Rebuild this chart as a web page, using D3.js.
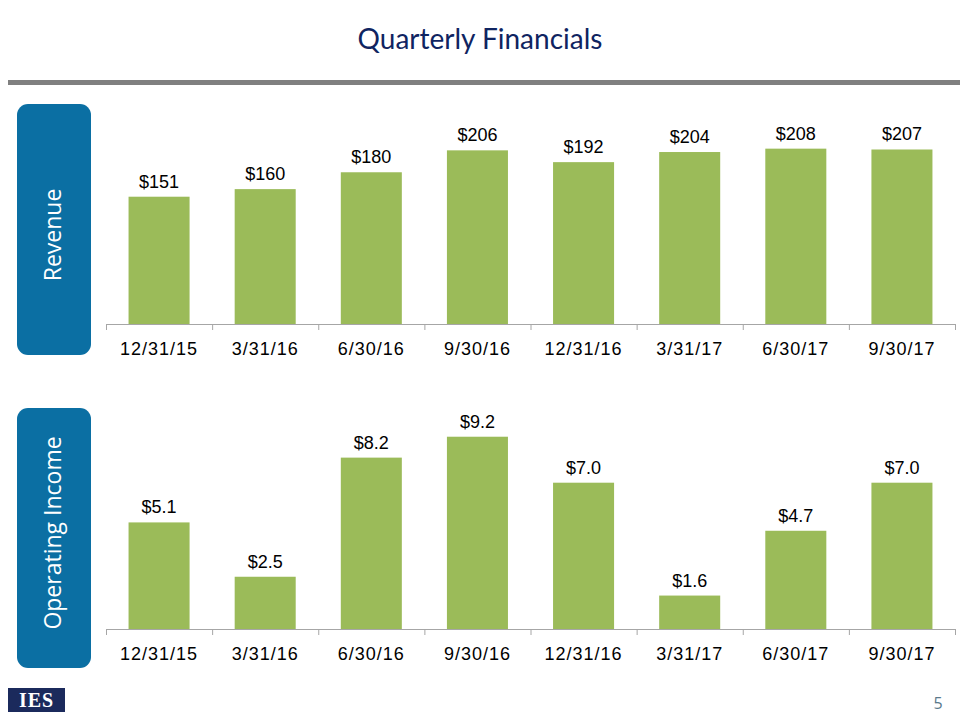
<!DOCTYPE html>
<html><head><meta charset="utf-8">
<script src="https://cdn.jsdelivr.net/npm/d3@7"></script>
<style>body{margin:0;background:#fff}svg{display:block}</style>
</head><body>
<script>
const categories = ["12/31/15","3/31/16","6/30/16","9/30/16","12/31/16","3/31/17","6/30/17","9/30/17"];
const revenue = [151,160,180,206,192,204,208,207];
const revenueLabels = ["$151","$160","$180","$206","$192","$204","$208","$207"];
const opIncome = [5.1,2.5,8.2,9.2,7.0,1.6,4.7,7.0];
const opIncomeLabels = ["$5.1","$2.5","$8.2","$9.2","$7.0","$1.6","$4.7","$7.0"];
const panelTitles = ["Revenue","Operating Income"];

const W=960,H=720;
const svg=d3.select("body").append("svg").attr("width",W).attr("height",H);

// title
svg.append("text").attr("x",480).attr("y",49).attr("text-anchor","middle")
  .attr("font-family","Lato, 'Open Sans', sans-serif").attr("font-size",28)
  .attr("fill","#0F2461").text("Quarterly Financials");
svg.append("rect").attr("x",8).attr("y",80).attr("width",952).attr("height",5).attr("fill","#808080");

const x=d3.scaleBand().domain(categories).range([106,955]).paddingInner(0.425).paddingOuter(0.2125);
const xb=d3.scaleLinear().domain([0,categories.length]).range([106,955]);

function panel(values,labels,yScale,box,title,textCenter){
  const g=svg.append("g");
  g.append("rect").attr("x",box[0]).attr("y",box[1]).attr("width",box[2]).attr("height",box[3])
    .attr("rx",11).attr("fill","#0B6FA3");
  g.append("text").attr("transform",`translate(${box[0]+box[2]/2+7},${textCenter}) rotate(-90)`)
    .attr("text-anchor","middle").attr("font-family","'Open Sans', sans-serif").attr("font-size",23)
    .attr("fill","#fff").text(title);
  const base=yScale(0);
  g.selectAll(".bar").data(values).join("rect")
    .attr("x",(d,i)=>x(categories[i])).attr("width",x.bandwidth())
    .attr("y",d=>yScale(d)).attr("height",d=>base-yScale(d)).attr("fill","#9BBB59");
  g.selectAll(".lbl").data(values).join("text")
    .attr("x",(d,i)=>x(categories[i])+x.bandwidth()/2).attr("y",d=>yScale(d)-9)
    .attr("text-anchor","middle").attr("font-family","Arial, 'Liberation Sans', sans-serif")
    .attr("font-size",18).attr("fill","#000").text((d,i)=>labels[i]);
  const ax=g.append("g").attr("transform",`translate(0,${base})`)
    .call(d3.axisBottom(xb).tickValues(d3.range(categories.length+1)).tickFormat("").tickSize(6).tickSizeOuter(0));
  ax.select(".domain").attr("stroke","#A6A6A6");
  ax.selectAll(".tick line").attr("stroke","#A6A6A6");
  const ax2=g.append("g").attr("transform",`translate(0,${base})`)
    .call(d3.axisBottom(x).tickSize(0).tickPadding(18));
  ax2.select(".domain").remove();
  ax2.selectAll("text").attr("font-family","Arial, 'Liberation Sans', sans-serif")
    .attr("font-size",18).attr("fill","#000").attr("letter-spacing","1px").attr("dy","0.71em");
}

const yRev=d3.scaleLinear().domain([0,250]).range([324,324-250*0.843]);
const yOp=d3.scaleLinear().domain([0,10]).range([629,629-209]);
panel(revenue,revenueLabels,yRev,[17,104,74,251],panelTitles[0],235);
panel(opIncome,opIncomeLabels,yOp,[17,408,74,260],panelTitles[1],533);

// logo
svg.append("rect").attr("x",8).attr("y",688).attr("width",57).attr("height",24).attr("fill","#1B2A5C");
svg.append("text").attr("x",36.5).attr("y",707).attr("text-anchor","middle")
  .attr("font-family","'Liberation Serif', 'DejaVu Serif', serif").attr("font-weight","bold")
  .attr("font-size",20).attr("fill","#fff").attr("letter-spacing","1px").text("IES");
svg.append("text").attr("x",938).attr("y",709).attr("text-anchor","middle")
  .attr("font-family","'Open Sans', sans-serif").attr("font-size",16).attr("fill","#5B7A8C").text("5");
</script>
</body></html>
